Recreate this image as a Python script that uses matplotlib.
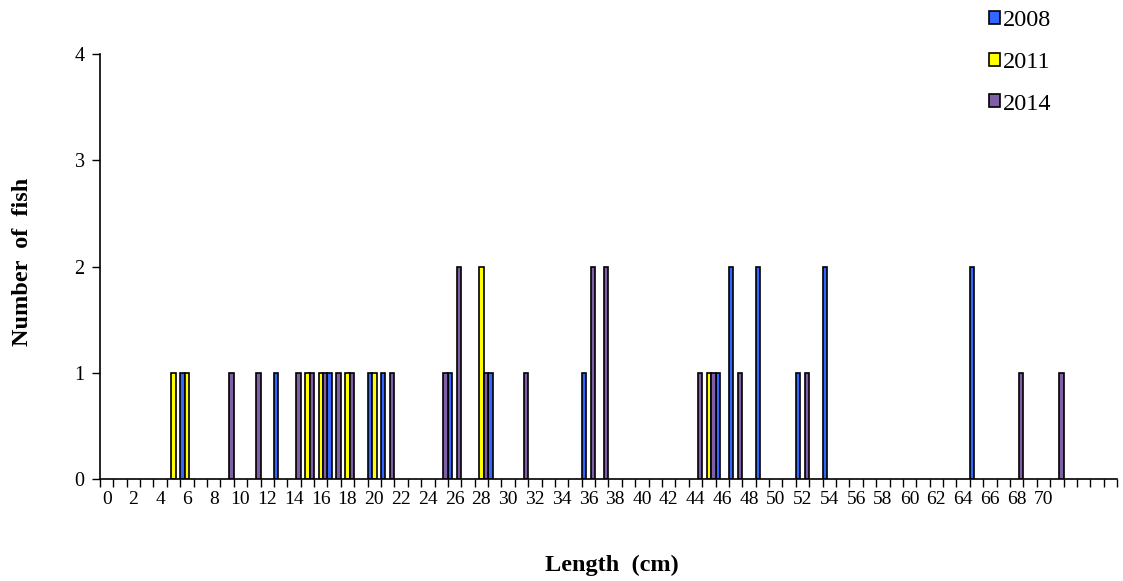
import numpy as np
import matplotlib
matplotlib.use('Agg')
import matplotlib.pyplot as plt
from matplotlib.patches import Patch

plt.rcParams['font.family'] = ['Liberation Serif', 'DejaVu Serif']

# length categories 0..75 cm
categories = np.arange(76)
tick_labels = [str(v) for v in range(0, 71, 2)]

# (length, number of fish) per survey year
len_2008 = [6, 13, 17, 20, 21, 26, 29, 36, 46, 47, 49, 52, 54, 65]
n_2008 = [1, 1, 1, 1, 1, 1, 1, 1, 1, 2, 2, 1, 2, 2]

len_2011 = [5, 6, 15, 16, 18, 20, 28, 45]
n_2011 = [1, 1, 1, 1, 1, 1, 2, 1]

len_2014 = [9, 11, 14, 15, 16, 17, 18, 21, 25, 26, 28, 31, 36, 37, 44, 45, 47, 52, 68, 71]
n_2014 = [1, 1, 1, 1, 1, 1, 1, 1, 1, 2, 1, 1, 2, 2, 1, 1, 1, 1, 1, 1]

series = [('2008', len_2008, n_2008, '#3366ff'),
          ('2011', len_2011, n_2011, '#ffff00'),
          ('2014', len_2014, n_2014, '#7f5fa6')]

fig = plt.figure(figsize=(11.23, 5.81), dpi=100)
ax = fig.add_axes([0.089, 0.1756, 0.9057, 0.7314])

w = 1.0 / 3
for k, (name, lens, counts, col) in enumerate(series):
    ax.bar(np.array(lens) + (k - 1) * w, counts, width=w, color=col,
           edgecolor='black', linewidth=1.2, label=name)

ax.set_xlim(-0.5, len(categories) - 0.5)
ax.set_ylim(0, 4)
ax.set_yticks(range(0, 5))
ax.tick_params(axis='y', direction='out', length=6, width=1, labelsize=14.5, pad=5)

ax.set_xticks(range(0, 71, 2))
ax.set_xticklabels(tick_labels)
ax.set_xticks(np.arange(-0.5, len(categories), 1), minor=True)
ax.tick_params(axis='x', which='major', length=0, labelsize=14, pad=9)
ax.tick_params(axis='x', which='minor', direction='out', length=6, width=1)

for s in ['top', 'right']:
    ax.spines[s].set_visible(False)
for s in ['left', 'bottom']:
    ax.spines[s].set_linewidth(1.2)

fig.text(0.545, 0.027, 'Length  (cm)', fontsize=17.5, fontweight='bold', ha='center', va='center')
fig.text(0.02, 0.55, 'Number  of  fish', fontsize=17.5, fontweight='bold', rotation=90,
         ha='center', va='center')

handles = [Patch(facecolor=c, edgecolor='black', linewidth=1.2) for _, _, _, c in series]
fig.legend(handles, [n for n, _, _, _ in series], loc='upper left',
           bbox_to_anchor=(0.861, 1.02), frameon=False, fontsize=17.5,
           handlelength=0.45, handleheight=0.45, handletextpad=0.12, labelspacing=0.85)

fig.savefig('out.png', dpi=100)
